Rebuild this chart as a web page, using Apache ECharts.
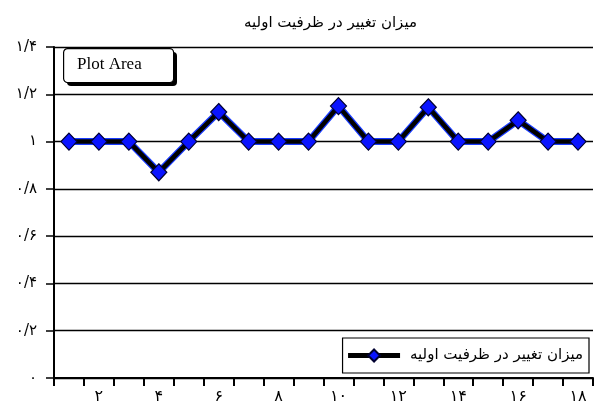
<!DOCTYPE html>
<html>
<head>
<meta charset="utf-8">
<script src="https://cdn.jsdelivr.net/npm/echarts@6/dist/echarts.min.js"></script>
<style>
html,body{margin:0;padding:0;background:#fff;}
#chart{width:596px;height:406px;}
</style>
</head>
<body>
<div id="chart"></div>
<script>
var titleText = 'میزان تغییر در ظرفیت اولیه';
var seriesName = 'میزان تغییر در ظرفیت اولیه';
var categories = ['۱','۲','۳','۴','۵','۶','۷','۸','۹','۱۰','۱۱','۱۲','۱۳','۱۴','۱۵','۱۶','۱۷','۱۸'];
var values = [1, 1, 1, 0.87, 1, 1.125, 1, 1, 1, 1.15, 1, 1, 1.145, 1, 1, 1.09, 1, 1];
var yTickValues = [0, 0.2, 0.4, 0.6, 0.8, 1, 1.2, 1.4];
var yTickLabels = ['۰', '۰/۲', '۰/۴', '۰/۶', '۰/۸', '۱', '۱/۲', '۱/۴'];

var chart = echarts.init(document.getElementById('chart'));
var font = 'DejaVu Sans';
chart.setOption({
  animation: false,
  backgroundColor: '#fff',
  title: {
    text: titleText, left: 239, top: 11,
    textStyle: {fontFamily: font, fontSize: 15, fontWeight: 'normal', color: '#000'}
  },
  grid: {left: 54, right: 3, top: 47, bottom: 28, containLabel: false},
  legend: {
    data: [seriesName],
    right: 7, bottom: 33,
    orient: 'horizontal',
    borderColor: '#000', borderWidth: 1.2,
    padding: [10, 6, 10, 3],
    itemWidth: 52, itemHeight: 15, itemGap: 8,
    lineStyle: {width: 5, color: '#000'},
    textStyle: {fontFamily: font, fontSize: 15, color: '#000', padding: [0, 0, 0, 5]}
  },
  xAxis: {
    type: 'category',
    data: categories,
    boundaryGap: true,
    axisLine: {show: true, lineStyle: {color: '#000', width: 2}},
    axisTick: {show: true, alignWithLabel: false, interval: 0, length: 8, lineStyle: {color: '#000', width: 2}},
    axisLabel: {
      interval: function (i) { return i % 2 === 1; },
      color: '#000', fontFamily: font, fontSize: 16, margin: 11
    },
    splitLine: {show: false}
  },
  yAxis: {
    type: 'value', min: 0, max: 1.4, interval: 0.2,
    axisLine: {show: true, lineStyle: {color: '#000', width: 2}},
    axisTick: {show: true, length: 8, lineStyle: {color: '#000', width: 1.5}},
    axisLabel: {
      color: '#000', fontFamily: font, fontSize: 15, margin: 17,
      formatter: function (v) {
        for (var i = 0; i < yTickValues.length; i++) {
          if (Math.abs(yTickValues[i] - v) < 1e-6) return yTickLabels[i];
        }
        return '';
      }
    },
    splitLine: {show: true, lineStyle: {color: '#000', width: 1.3}}
  },
  series: [
    {
      name: 'outline', type: 'line', data: values, silent: true,
      symbol: 'none', z: 2,
      lineStyle: {color: '#1a3cff', width: 7}
    },
    {
      name: seriesName, type: 'line', data: values, z: 3,
      symbol: 'diamond', symbolSize: [16, 17],
      itemStyle: {color: '#0a14ff', borderColor: '#000030', borderWidth: 1.2},
      lineStyle: {color: '#000', width: 4.5}
    }
  ],
  graphic: [
    {
      type: 'rect', left: 67, top: 52, z: 99,
      shape: {width: 110, height: 34, r: 4},
      style: {fill: '#000', stroke: null}
    },
    {
      type: 'rect', left: 63, top: 48, z: 100,
      shape: {width: 110, height: 34, r: 4},
      style: {fill: '#fff', stroke: '#000', lineWidth: 1.2}
    },
    {
      type: 'text', left: 77, top: 56, z: 101,
      style: {text: 'Plot Area', fontFamily: 'Liberation Serif', fontSize: 17, fill: '#000'}
    }
  ]
});
</script>
</body>
</html>
